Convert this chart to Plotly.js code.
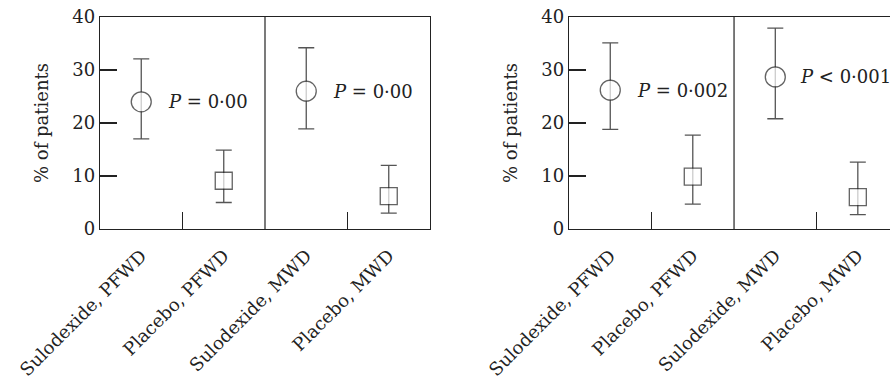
<!DOCTYPE html>
<html><head><meta charset="utf-8">
<script src="https://cdn.plot.ly/plotly-3.0.1.min.js"></script>
<style>html,body{margin:0;padding:0;background:#fff;}#chart{width:890px;height:385px;}</style>
</head><body><div id="chart"></div>
<script>
const categories = ["Sulodexide, PFWD", "Placebo, PFWD", "Sulodexide, MWD", "Placebo, MWD"];
const symbols = ["circle", "square", "circle", "square"];

// Panel A
const meanA  = [24.0, 9.1, 26.0, 6.2];
const lowerA = [17.0, 5.0, 18.9, 3.0];
const upperA = [32.1, 14.9, 34.2, 12.0];
const pTextA = ["<i>P</i> = 0·00", "<i>P</i> = 0·00"];

// Panel B
const meanB  = [26.2, 9.9, 28.7, 6.0];
const lowerB = [18.8, 4.7, 20.8, 2.7];
const upperB = [35.1, 17.7, 37.9, 12.6];
const pTextB = ["<i>P</i> = 0·002", "<i>P</i> &lt; 0·001"];

const yTicks = [0, 10, 20, 30, 40];

const FONT = "DejaVu Serif, serif";
const INK = "#222";
const LINE = "#555";

function errTrace(mean, lower, upper, xa, ya) {
  return {
    type: "scatter", mode: "markers",
    x: categories, y: mean, xaxis: xa, yaxis: ya,
    marker: {size: 1, color: "rgba(0,0,0,0)"},
    error_y: {
      type: "data", symmetric: false,
      array: upper.map((u, i) => u - mean[i]),
      arrayminus: lower.map((l, i) => mean[i] - l),
      color: LINE, thickness: 1.3, width: 8
    },
    showlegend: false, hoverinfo: "skip"
  };
}
function markTrace(mean, xa, ya) {
  return {
    type: "scatter", mode: "markers", x: categories, y: mean, xaxis: xa, yaxis: ya,
    marker: {
      symbol: symbols,
      size: symbols.map(s => s === "circle" ? 20 : 17),
      color: "#fff", line: {width: 1.3, color: INK}
    },
    showlegend: false, hoverinfo: "skip"
  };
}

const data = [
  errTrace(meanA, lowerA, upperA, "x", "y"),
  markTrace(meanA, "x", "y"),
  errTrace(meanB, lowerB, upperB, "x2", "y2"),
  markTrace(meanB, "x2", "y2"),
  {type: "scatter", x: [], y: [], xaxis: "x3", yaxis: "y", showlegend: false, hoverinfo: "skip"},
  {type: "scatter", x: [], y: [], xaxis: "x4", yaxis: "y2", showlegend: false, hoverinfo: "skip"}
];

const rangeA = [-0.5, 3.5];
const rangeB = [-0.5, 3.39];

const baseX = {
  type: "category", showgrid: false, zeroline: false, showline: true, linecolor: INK, linewidth: 1.2,
  ticks: "", tickangle: -45, ticklabelstandoff: 8,
  tickfont: {family: FONT, size: 18, color: INK}, fixedrange: true
};
const baseY = {
  range: [0, 40], tickvals: yTicks, showgrid: false, zeroline: false, showline: true,
  linecolor: INK, linewidth: 1.2, ticks: "inside", ticklen: 17, tickwidth: 1.2, tickcolor: INK,
  tickfont: {family: FONT, size: 18, color: INK},
  title: {text: "% of patients", font: {family: FONT, size: 18, color: INK}, standoff: 19}
};
const overlayX = {
  type: "linear", showgrid: false, zeroline: false, showline: false, showticklabels: false,
  tickvals: [0.5, 2.5], ticks: "inside", ticklen: 17, tickwidth: 1.2, tickcolor: INK
};

const layout = {
  width: 890, height: 385,
  margin: {l: 0, r: 0, t: 17, b: 156},
  paper_bgcolor: "#fff", plot_bgcolor: "#fff",
  xaxis: Object.assign({}, baseX, {domain: [100/890, 430/890], range: rangeA, anchor: "y", mirror: true}),
  yaxis: Object.assign({}, baseY, {domain: [0, 1], anchor: "x", mirror: true}),
  xaxis2: Object.assign({}, baseX, {domain: [569/890, 1], range: rangeB, anchor: "y2", mirror: true}),
  yaxis2: Object.assign({}, baseY, {domain: [0, 1], anchor: "x2", mirror: false}),
  xaxis3: Object.assign({}, overlayX, {overlaying: "x", anchor: "y", range: rangeA}),
  xaxis4: Object.assign({}, overlayX, {overlaying: "x2", anchor: "y2", range: rangeB}),
  shapes: [
    {type: "line", xref: "x", yref: "y domain", x0: 1.5, x1: 1.5, y0: 0, y1: 1, line: {color: INK, width: 1.2}},
    {type: "line", xref: "x2", yref: "y2 domain", x0: 1.5, x1: 1.5, y0: 0, y1: 1, line: {color: INK, width: 1.2}}
  ],
  annotations: [
    {xref: "x", yref: "y", x: 0.3, y: meanA[0], text: pTextA[0]},
    {xref: "x", yref: "y", x: 2.3, y: meanA[2], text: pTextA[1]},
    {xref: "x2", yref: "y2", x: 0.3, y: meanB[0], text: pTextB[0]},
    {xref: "x2", yref: "y2", x: 2.27, y: meanB[2], text: pTextB[1]}
  ].map(a => Object.assign(a, {showarrow: false, xanchor: "left", yanchor: "middle",
    font: {family: FONT, size: 18, color: INK}}))
};

Plotly.newPlot("chart", data, layout, {staticPlot: true, displayModeBar: false});
</script>
</body></html>
